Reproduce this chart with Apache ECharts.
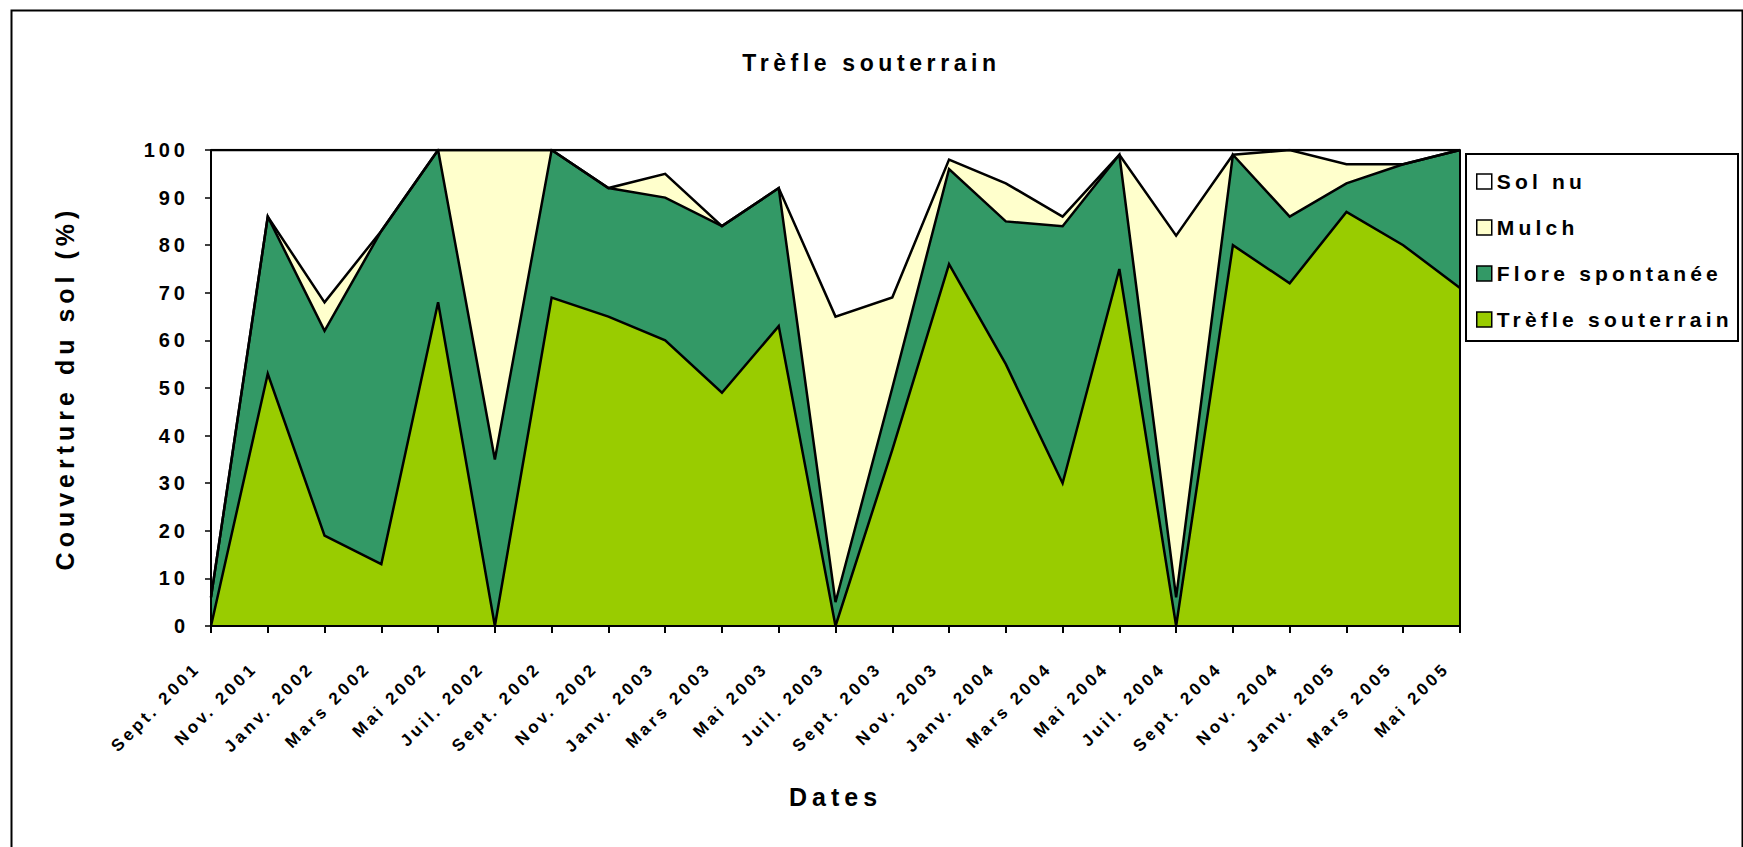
<!DOCTYPE html>
<html>
<head>
<meta charset="utf-8">
<script src="https://cdn.jsdelivr.net/npm/echarts@6/dist/echarts.min.js"></script>
<style>
  html, body { margin: 0; padding: 0; background: #fff; }
  #chart { width: 1743px; height: 847px; }
  #chart text { letter-spacing: 0.2em; }
</style>
</head>
<body>
<div id="chart"></div>
<script>
const categories = ['Sept. 2001','Nov. 2001','Janv. 2002','Mars 2002','Mai 2002','Juil. 2002','Sept. 2002','Nov. 2002','Janv. 2003','Mars 2003','Mai 2003','Juil. 2003','Sept. 2003','Nov. 2003','Janv. 2004','Mars 2004','Mai 2004','Juil. 2004','Sept. 2004','Nov. 2004','Janv. 2005','Mars 2005','Mai 2005'];
const trefle = [0,53,19,13,68,0,69,65,60,49,63,0,37,76,55,30,75,0,80,72,87,80,71];
const flore  = [6,33,43,70,32,35,31,27,30,35,29,5,13,20,30,54,24,6,19,14,6,17,29];
const mulch  = [0,0,6,0,0,65,0,0,5,0,0,60,19,2,8,2,0,76,0,14,4,0,0];
const solNu  = [94,14,32,17,0,0,0,8,5,16,8,35,31,2,7,14,1,18,1,0,3,3,0];
const yTicks = [0,10,20,30,40,50,60,70,80,90,100];

const FONT = 'Liberation Sans, Arial, sans-serif';
const layers = [
  { name: 'Trèfle souterrain', data: trefle, color: '#99CC00' },
  { name: 'Flore spontanée', data: flore, color: '#339966' },
  { name: 'Mulch', data: mulch, color: '#FFFFCC' },
  { name: 'Sol nu', data: solNu, color: '#FFFFFF' }
];

const series = [];
layers.forEach(l => {
  series.push({
    name: l.name, type: 'line', stack: 'area', data: l.data,
    showSymbol: false, symbol: 'none', z: 2,
    lineStyle: { width: 0, opacity: 0 },
    itemStyle: { color: l.color },
    areaStyle: { color: l.color, opacity: 1 },
    emphasis: { disabled: true }, animation: false
  });
});
layers.forEach((l, i) => {
  series.push({
    name: '_edge' + i, type: 'line', stack: 'edge', data: l.data,
    showSymbol: false, symbol: 'none', z: 3,
    lineStyle: { width: 2.5, color: '#000', join: 'miter' },
    emphasis: { disabled: true }, animation: false
  });
});

const chart = echarts.init(document.getElementById('chart'), null, { renderer: 'svg' });
chart.setOption({
  animation: false,
  backgroundColor: '#fff',
  textStyle: { fontFamily: FONT },
  title: {
    text: 'Trèfle souterrain', left: 'center', top: 46,
    textStyle: { fontFamily: FONT, fontWeight: 'bold', fontSize: 23, color: '#000' }
  },
  grid: { left: 211, right: 283, top: 150, bottom: 221 },
  legend: {
    orient: 'vertical', left: 1476, top: 171, padding: 0,
    itemWidth: 15, itemHeight: 15, itemGap: 25, itemTextGap: 9,
    icon: 'rect', selectedMode: false,
    textStyle: { fontFamily: FONT, fontWeight: 'bold', fontSize: 21, color: '#000' },
    data: layers.slice().reverse().map(l => ({
      name: l.name, icon: 'rect',
      itemStyle: { color: l.color, borderColor: '#000', borderWidth: 1.5 }
    }))
  },
  xAxis: {
    type: 'category', data: categories, boundaryGap: false, z: 5,
    name: 'Dates', nameLocation: 'middle', nameGap: 158,
    nameTextStyle: { fontFamily: FONT, fontWeight: 'bold', fontSize: 25, color: '#000' },
    axisLine: { lineStyle: { color: '#000', width: 2 } },
    axisTick: { show: true, interval: 0, length: 7, lineStyle: { color: '#000', width: 2 } },
    axisLabel: {
      interval: 0, rotate: 45, margin: 26, padding: [0, 19, 0, 0],
      fontFamily: FONT, fontWeight: 'bold', fontSize: 17, color: '#000'
    },
    splitLine: { show: false }
  },
  yAxis: [{
    type: 'value', min: yTicks[0], max: yTicks[yTicks.length - 1], interval: 10, z: 5,
    name: 'Couverture du sol (%)', nameLocation: 'middle', nameGap: 134, nameRotate: 90,
    nameTextStyle: { fontFamily: FONT, fontWeight: 'bold', fontSize: 25, color: '#000' },
    axisLine: { show: true, lineStyle: { color: '#000', width: 2 } },
    axisTick: { show: true, length: 6, lineStyle: { color: '#000', width: 1.5 } },
    axisLabel: { margin: 22, fontFamily: FONT, fontWeight: 'bold', fontSize: 20, color: '#000' },
    splitLine: { show: false }
  }, {
    type: 'value', min: 0, max: 100, interval: 10, position: 'right', z: 5,
    axisLine: { show: true, lineStyle: { color: '#000', width: 2 } },
    axisTick: { show: false }, axisLabel: { show: false }, splitLine: { show: false }
  }],
  graphic: [
    { type: 'rect', left: 9, top: 8, z: 0, silent: true,
      shape: { width: 1731, height: 900 },
      style: { fill: 'none', stroke: '#000', lineWidth: 2 } },
    { type: 'rect', left: 1465, top: 153, z: 0, silent: true,
      shape: { width: 272, height: 187 },
      style: { fill: '#fff', stroke: '#000', lineWidth: 2 } }
  ],
  series: series
});
</script>
</body>
</html>
